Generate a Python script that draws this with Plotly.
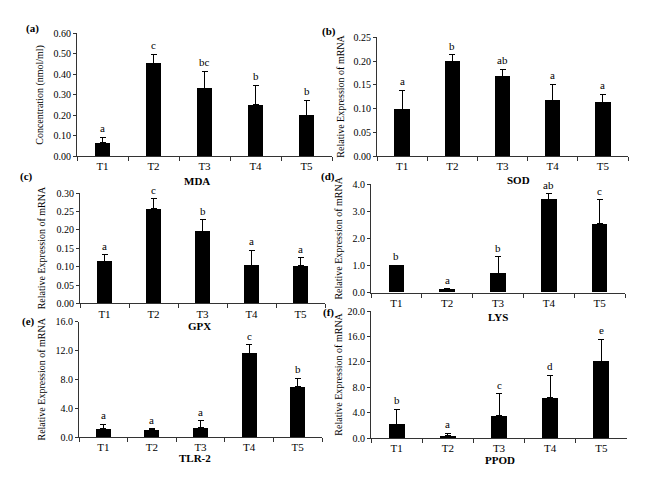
import plotly.graph_objects as go

groups = ["T1", "T2", "T3", "T4", "T5"]

mda_mean = [0.065, 0.453, 0.332, 0.250, 0.199]
mda_err = [0.027, 0.044, 0.083, 0.096, 0.073]
mda_letters = ["a", "c", "bc", "b", "b"]

sod_mean = [0.0985, 0.199, 0.168, 0.1175, 0.113]
sod_err = [0.0405, 0.014, 0.015, 0.0335, 0.017]
sod_letters = ["a", "b", "ab", "a", "a"]

gpx_mean = [0.115, 0.2575, 0.197, 0.104, 0.102]
gpx_err = [0.017, 0.0275, 0.031, 0.041, 0.022]
gpx_letters = ["a", "c", "b", "a", "a"]

lys_mean = [0.99, 0.12, 0.72, 3.44, 2.54]
lys_err = [0.03, 0.03, 0.61, 0.21, 0.89]
lys_letters = ["b", "a", "b", "ab", "c"]

tlr_mean = [1.13, 1.04, 1.30, 11.67, 7.03]
tlr_err = [0.63, 0.13, 1.00, 1.18, 1.13]
tlr_letters = ["a", "a", "a", "c", "b"]

ppod_mean = [2.10, 0.36, 3.50, 6.33, 12.04]
ppod_err = [2.43, 0.36, 3.50, 3.55, 3.55]
ppod_letters = ["b", "a", "c", "d", "e"]

W, H = 649, 485
FONT = "Liberation Serif"

panels = [
    dict(mean=mda_mean, err=mda_err, letters=mda_letters, label="(a)", name="MDA",
         ytitle="Concentration (nmol/ml)", yrange=[0, 0.6], dtick=0.1, fmt=".2f",
         px=(77, 332), py=(28, 154), lab=(32, 23), tit=(197, 179), yt=40),
    dict(mean=sod_mean, err=sod_err, letters=sod_letters, label="(b)", name="SOD",
         ytitle="Relative Expression of mRNA", yrange=[0, 0.25], dtick=0.05, fmt=".2f",
         px=(377, 628), py=(32, 154), lab=(329, 26), tit=(518, 178), yt=341),
    dict(mean=gpx_mean, err=gpx_err, letters=gpx_letters, label="(c)", name="GPX",
         ytitle="Relative Expression of mRNA", yrange=[0, 0.3], dtick=0.05, fmt=".2f",
         px=(80, 325), py=(192, 305), lab=(26, 175), tit=(199, 328), yt=41),
    dict(mean=lys_mean, err=lys_err, letters=lys_letters, label="(d)", name="LYS",
         ytitle="Relative Expression of mRNA", yrange=[0, 4.0], dtick=1.0, fmt=".1f",
         px=(371, 625), py=(183, 294), lab=(328, 175), tit=(498, 319), yt=339),
    dict(mean=tlr_mean, err=tlr_err, letters=tlr_letters, label="(e)", name="TLR-2",
         ytitle="Relative Expression of mRNA", yrange=[0, 16.0], dtick=4.0, fmt=".1f",
         px=(79, 322), py=(324, 442), lab=(28, 323), tit=(195, 463), yt=42),
    dict(mean=ppod_mean, err=ppod_err, letters=ppod_letters, label="(f)", name="PPOD",
         ytitle="Relative Expression of mRNA", yrange=[0, 20.0], dtick=4.0, fmt=".1f",
         px=(371, 627), py=(313, 443), lab=(328, 314), tit=(500, 466), yt=339),
]

fig = go.Figure()
annotations = []
layout = {}

for i, p in enumerate(panels):
    k = "" if i == 0 else str(i + 1)
    xa, ya = "x" + k, "y" + k
    fig.add_trace(go.Bar(
        x=groups, y=p["mean"], xaxis=xa, yaxis=ya, width=0.31,
        marker=dict(color="black", line=dict(width=0)),
        error_y=dict(type="data", array=p["err"], arrayminus=[0] * 5, symmetric=False,
                     color="black", thickness=1, width=3),
        showlegend=False,
    ))
    x0, x1 = p["px"]
    y0, y1 = p["py"]
    layout["xaxis" + k] = dict(
        domain=[x0 / W, x1 / W], anchor=ya, type="category", range=[-0.5, 4.5],
        showline=True, linecolor="#333", linewidth=1, ticks="outside", ticklen=4,
        tickcolor="#333", tickson="boundaries", showgrid=False, zeroline=False,
        tickfont=dict(family=FONT, size=11, color="black"), fixedrange=True,
    )
    layout["yaxis" + k] = dict(
        domain=[1 - y1 / H, 1 - y0 / H], anchor=xa, range=p["yrange"], dtick=p["dtick"],
        tickformat=p["fmt"], showline=True, linecolor="#333", linewidth=1,
        ticks="outside", ticklen=3, tickcolor="#333", showgrid=False, zeroline=False,
        tickfont=dict(family=FONT, size=10, color="black"),
    )
    for g, m, e, L in zip(groups, p["mean"], p["err"], p["letters"]):
        annotations.append(dict(x=g, y=m + e, xref=xa, yref=ya, text=L, showarrow=False,
                                yanchor="bottom", yshift=1,
                                font=dict(family=FONT, size=11, color="black")))
    annotations.append(dict(x=p["lab"][0] / W, y=1 - p["lab"][1] / H, xref="paper", yref="paper",
                            text="<b>" + p["label"] + "</b>", showarrow=False,
                            xanchor="center", yanchor="middle",
                            font=dict(family=FONT, size=11, color="black")))
    annotations.append(dict(x=p["tit"][0] / W, y=1 - p["tit"][1] / H, xref="paper", yref="paper",
                            text="<b>" + p["name"] + "</b>", showarrow=False,
                            xanchor="center", yanchor="middle",
                            font=dict(family=FONT, size=11, color="black")))
    annotations.append(dict(x=p["yt"] / W, y=1 - (y0 + y1) / 2 / H, xref="paper", yref="paper",
                            text=p["ytitle"], showarrow=False, textangle=-90,
                            xanchor="center", yanchor="middle",
                            font=dict(family=FONT, size=10, color="black")))

fig.update_layout(
    width=W, height=H, margin=dict(l=0, r=0, t=0, b=0),
    paper_bgcolor="white", plot_bgcolor="white",
    annotations=annotations, bargap=0, **layout,
)

fig.write_html("out.html")
